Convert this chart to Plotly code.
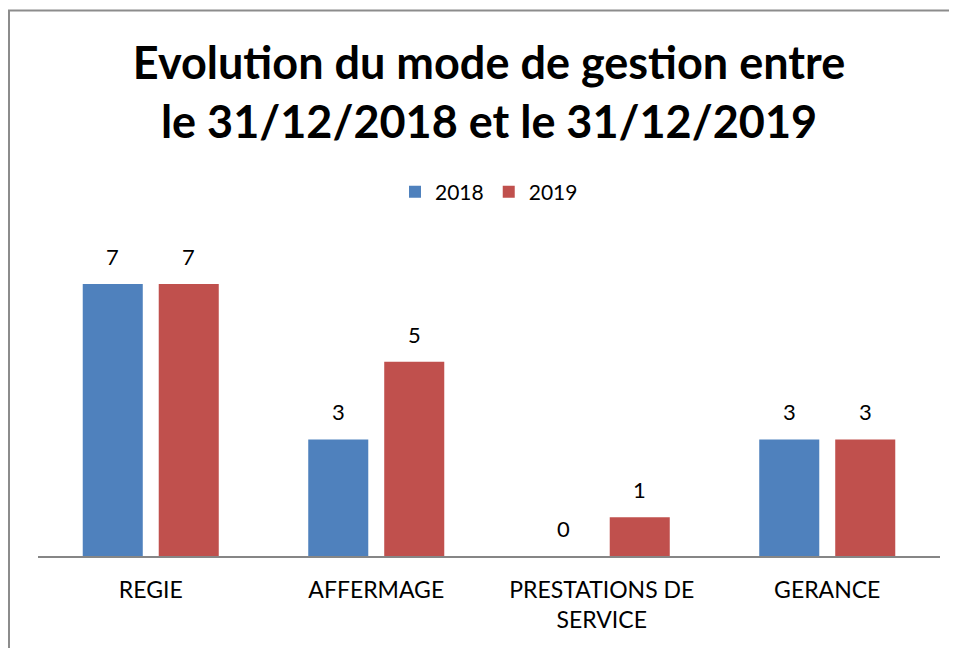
import plotly.graph_objects as go

categories = ["REGIE", "AFFERMAGE", "PRESTATIONS DE<br>SERVICE", "GERANCE"]
values_2018 = [7, 3, 0, 3]
values_2019 = [7, 5, 1, 3]
series_names = ["2018", "2019"]
colors = ["#4F81BD", "#C0504D"]

# page body has an 8px margin, so the figure starts at window pixel (8, 8)
OFF = 8
W, H = 957 - OFF, 648 - OFF
L, R, T, B = 38 - OFF, 957 - 940, 245 - OFF, 648 - 556
pw, ph = W - L - R, H - T - B

BARGAP, GROUPGAP = 0.326, 0.21
slot_px = pw / len(categories) * (1 - BARGAP) / 2

fig = go.Figure()
annotations = []
for i, (name, vals, col) in enumerate(zip(series_names, [values_2018, values_2019], colors)):
    fig.add_trace(go.Bar(
        x=categories, y=vals, name=name, marker_color=col,
        marker_line_width=0,
    ))
    shift = (i - 0.5) * slot_px
    for cat, v in zip(categories, vals):
        annotations.append(dict(
            x=cat, y=v, xref="x", yref="y", text=str(v), showarrow=False,
            xanchor="center", yanchor="bottom", xshift=shift, yshift=12,
            font=dict(size=22, family="Lato", color="black"),
        ))

# helpers: window pixel -> paper coordinate
def px_x(p):
    return (p - OFF - L) / pw

def px_y(p):
    return (H - B - (p - OFF)) / ph

fig.update_layout(
    width=W, height=H,
    margin=dict(l=L, r=R, t=T, b=B),
    paper_bgcolor="white", plot_bgcolor="white",
    font=dict(family="Lato", color="black"),
    barmode="group", bargap=BARGAP, bargroupgap=GROUPGAP,
    title=dict(
        text="<b>Evolution du mode de gestion entre<br>le 31/12/2018 et le 31/12/2019</b>",
        x=0.5, xanchor="center", xref="paper",
        y=1 - 71 / H, yanchor="top", yref="container",
        font=dict(size=45, family="Lato", color="black"),
    ),
    legend=dict(
        orientation="h", x=0.5, xanchor="center",
        y=px_y(192), yanchor="middle",
        font=dict(size=21, family="Lato"), itemsizing="constant",
        traceorder="normal",
    ),
    xaxis=dict(
        showline=True, linecolor="#868686", linewidth=2,
        ticks="", showgrid=False,
        tickfont=dict(size=23, family="Lato"),
        ticklabelstandoff=12,
    ),
    yaxis=dict(range=[0, 8], visible=False, showgrid=False),
    annotations=annotations,
    shapes=[
        dict(type="line", xref="paper", yref="paper",
             x0=px_x(8), x1=px_x(957 + 5), y0=px_y(10.5), y1=px_y(10.5),
             line=dict(color="#8C8C8C", width=2)),
        dict(type="line", xref="paper", yref="paper",
             x0=px_x(9), x1=px_x(9), y0=px_y(10.5), y1=px_y(648 + 5),
             line=dict(color="#8C8C8C", width=2)),
    ],
)

fig.write_html("out.html")
